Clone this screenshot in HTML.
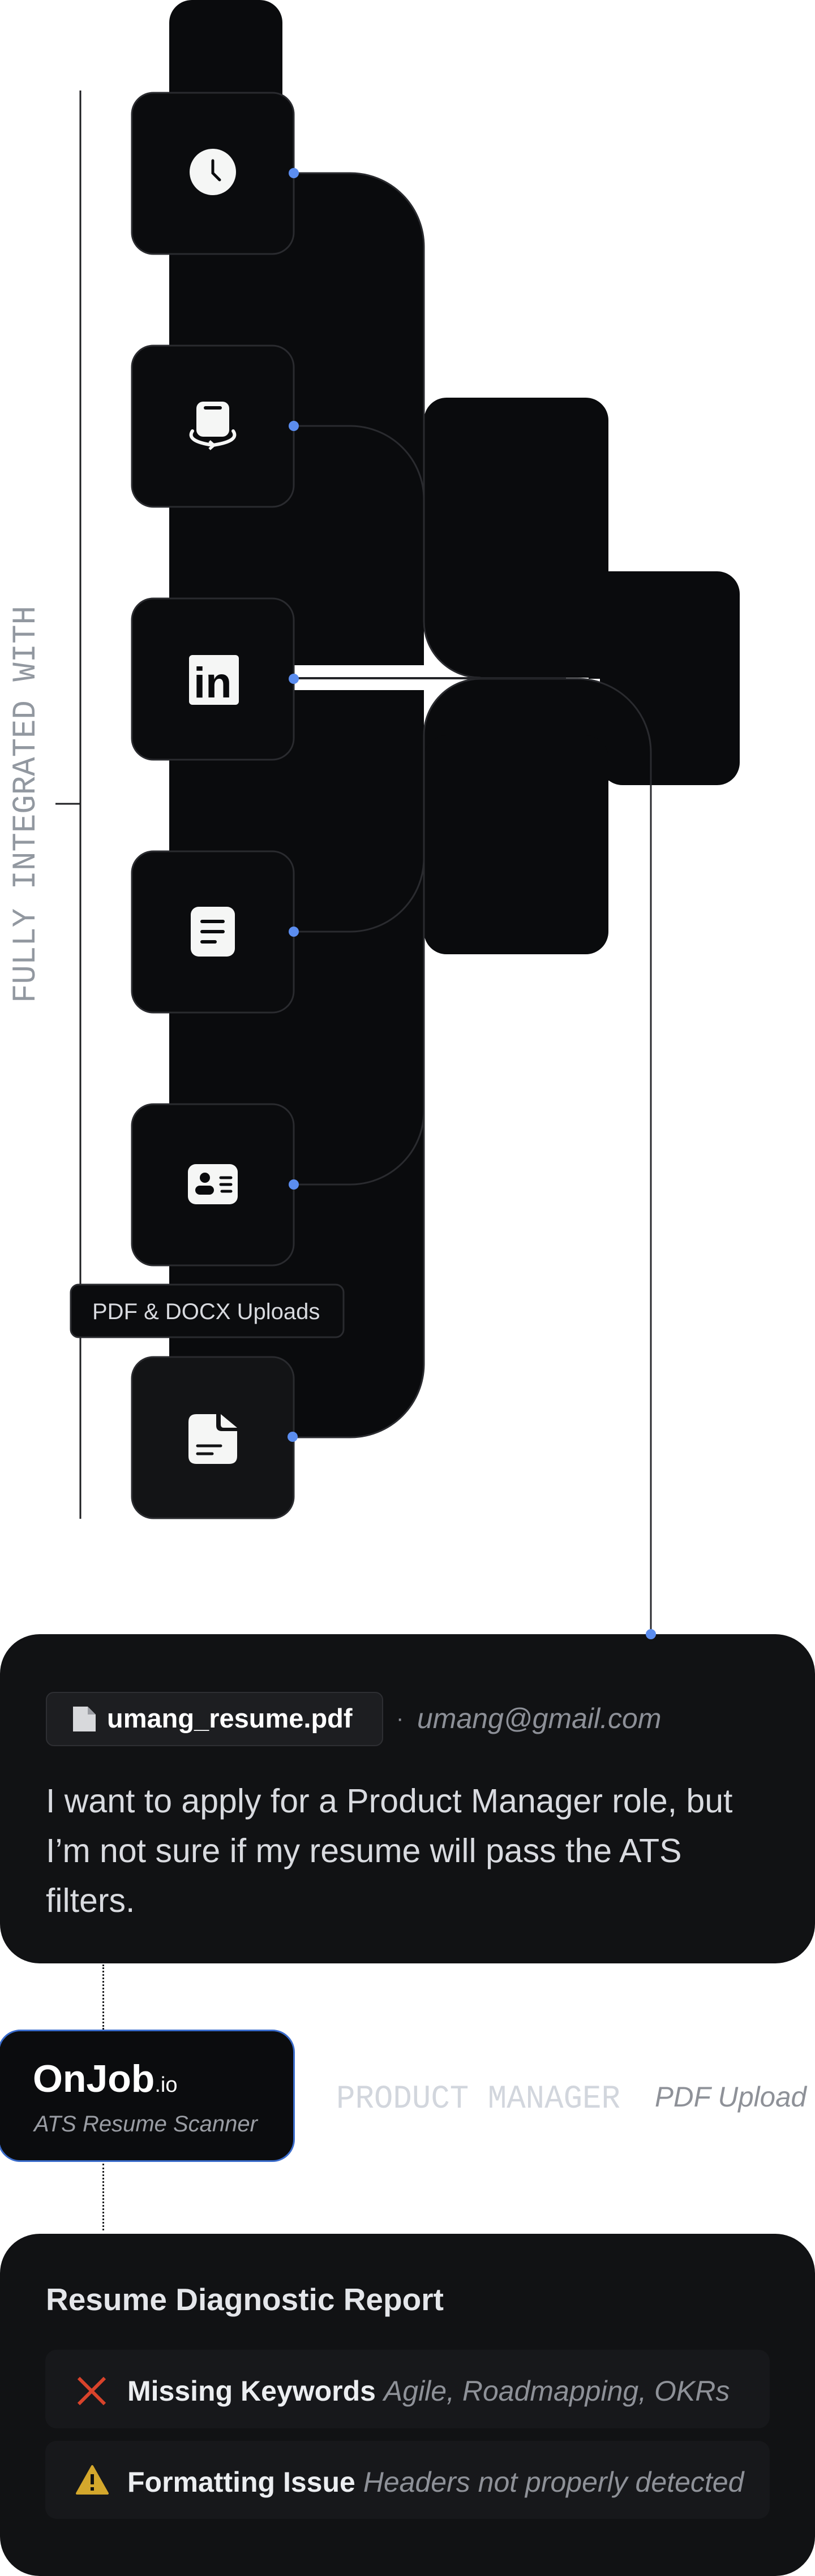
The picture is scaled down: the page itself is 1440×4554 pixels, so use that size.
<!DOCTYPE html>
<html><head><meta charset="utf-8"><style>
html,body{margin:0;padding:0;background:#fff;}
body{width:1440px;height:4554px;position:relative;overflow:hidden;font-family:"Liberation Sans",sans-serif;}
.a{position:absolute;}
</style></head><body>
<svg class="a" style="left:0;top:0" width="1440" height="2900" viewBox="0 0 1440 2900">
<g fill="#0a0b0d">
<rect x="299" y="0" width="200" height="2520" rx="40"/>
<path d="M499 306 H619 A130 130 0 0 1 749 436 V1176 H499 Z"/>
<path d="M499 1220 H749 V2411 A130 130 0 0 1 619 2541 H499 Z"/>
<rect x="749" y="703" width="326" height="403" rx="40"/>
<rect x="1060" y="1010" width="247" height="378" rx="40"/>
<path d="M749 900 V1098 A100 100 0 0 0 849 1198 H1075 V900 Z"/>
<rect x="1040" y="1010" width="60" height="190"/>
<path d="M749 1300 A100 100 0 0 1 849 1200 H1020 A130 130 0 0 1 1150 1330 V1380 H749 Z"/>
<rect x="749" y="1300" width="326" height="387" rx="40"/>
</g>
<g fill="none" stroke="#2a2b2f" stroke-width="3">
<path d="M519 306 H619 A130 130 0 0 1 749 436 V1098 A100 100 0 0 0 849 1198"/>
<path d="M519 753 H619 A130 130 0 0 1 749 883"/>
<path d="M849 1200 A100 100 0 0 0 749 1300 V2411 A130 130 0 0 1 619 2541 H519"/>
<path d="M519 1647 H619 A130 130 0 0 0 749 1517"/>
<path d="M519 2094 H619 A130 130 0 0 0 749 1964"/>
<path d="M849 1200 H1020 A130 130 0 0 1 1150 1330 V2889"/>
</g>
<line x1="519" y1="1199" x2="1000" y2="1199" stroke="#232428" stroke-width="4"/>
<line x1="142" y1="160" x2="142" y2="2685" stroke="#1d1e21" stroke-width="3"/>
<line x1="98" y1="1421" x2="142" y2="1421" stroke="#1d1e21" stroke-width="3"/>
<text x="0" y="0" transform="translate(61,1773) rotate(-90)" font-family="Liberation Mono, monospace" font-size="58" fill="#9298a0" textLength="702" lengthAdjust="spacingAndGlyphs">FULLY INTEGRATED WITH</text>
<g fill="#0b0c0e" stroke="#2a2b2f" stroke-width="3">
<rect x="233" y="164" width="286" height="285" rx="38"/>
<rect x="233" y="611" width="286" height="285" rx="38"/>
<rect x="233" y="1058" width="286" height="285" rx="38"/>
<rect x="233" y="1505" width="286" height="285" rx="38"/>
<rect x="233" y="1952" width="286" height="285" rx="38"/>
<rect x="233" y="2399" width="286" height="285" rx="38" fill="#131416"/>
</g>
<rect x="125" y="2271" width="482" height="93" rx="14" fill="#0b0c0e" stroke="#2a2b2f" stroke-width="3"/>
<text x="163" y="2332" font-family="Liberation Sans, sans-serif" font-size="40" fill="#d8dadf">PDF &amp; DOCX Uploads</text>
<circle cx="376" cy="304" r="41" fill="#f5f6f5"/>
<path d="M376 284 V306 L388 318" stroke="#0a0b0d" stroke-width="5" fill="none" stroke-linecap="round"/>
<rect x="347" y="710" width="58" height="62" rx="12" fill="#f5f6f5"/>
<rect x="360" y="718" width="32" height="6" rx="3" fill="#0a0b0d"/>
<path d="M340 762 Q328 780 376 787 Q424 780 412 762" stroke="#f5f6f5" stroke-width="6" fill="none" stroke-linecap="round"/>
<path d="M370 780 L378 787 L370 794" stroke="#f5f6f5" stroke-width="5" fill="none"/>
<rect x="334" y="1158" width="88" height="88" rx="6" fill="#f5f6f5"/>
<text x="342" y="1233" font-family="Liberation Sans, sans-serif" font-weight="bold" font-size="76" fill="#0a0b0d">in</text>
<rect x="337" y="1603" width="78" height="88" rx="14" fill="#f5f6f5"/>
<g stroke="#0a0b0d" stroke-width="6" stroke-linecap="round"><line x1="357" y1="1629" x2="394" y2="1629"/><line x1="357" y1="1647" x2="394" y2="1647"/><line x1="357" y1="1665" x2="380" y2="1665"/></g>
<rect x="332" y="2058" width="88" height="71" rx="14" fill="#f5f6f5"/>
<circle cx="362" cy="2082" r="9" fill="#0a0b0d"/><rect x="345" y="2096" width="33" height="16" rx="8" fill="#0a0b0d"/>
<g stroke="#0a0b0d" stroke-width="5" stroke-linecap="round"><line x1="390" y1="2082" x2="408" y2="2082"/><line x1="390" y1="2094" x2="408" y2="2094"/><line x1="392" y1="2106" x2="408" y2="2106"/></g>
<path d="M347 2500 H382 V2520 Q382 2530 392 2530 H419 V2574 Q419 2588 405 2588 H347 Q333 2588 333 2574 V2514 Q333 2500 347 2500 Z" fill="#f5f6f5"/>
<path d="M390 2500 L419 2524 H395 Q390 2524 390 2518 Z" fill="#f5f6f5"/>
<g stroke="#131416" stroke-width="5" stroke-linecap="round"><line x1="349" y1="2556" x2="390" y2="2556"/><line x1="349" y1="2570" x2="375" y2="2570"/></g>
<g fill="#5b8def">
<circle cx="519" cy="306" r="9"/><circle cx="519" cy="753" r="9"/><circle cx="519" cy="1200" r="9"/>
<circle cx="519" cy="1647" r="9"/><circle cx="519" cy="2094" r="9"/><circle cx="517" cy="2540" r="9"/>
</g>
</svg>

<div class="a" style="left:0;top:2889px;width:1440px;height:582px;background:#111214;border-radius:70px;"></div>
<svg class="a" style="left:1140px;top:2879px" width="20" height="20"><circle cx="10" cy="10" r="9" fill="#5b8def"/></svg>
<div class="a" style="left:81px;top:2991px;width:596px;height:96px;background:#1d1e21;border:2px solid #2e2f33;border-radius:14px;box-sizing:border-box;"></div>
<svg class="a" style="left:127px;top:3015px" width="44" height="48"><path d="M2 2 H28 L42 16 V46 H2 Z" fill="#d8d9dc"/><path d="M28 2 V16 H42" fill="#9a9ca2"/></svg>
<div class="a" style="left:189px;top:3010px;font-size:47px;font-weight:bold;color:#fff;line-height:56px;">umang_resume.pdf</div>
<div class="a" style="left:700px;top:3010px;font-size:40px;color:#8d9098;line-height:56px;">·</div>
<div class="a" style="left:737px;top:3010px;font-size:50px;font-style:italic;color:#8d9098;line-height:56px;">umang@gmail.com</div>
<div class="a" style="left:81px;top:3140px;width:1340px;font-size:59px;color:#d9dbe0;line-height:88px;white-space:nowrap;">I want to apply for a Product Manager role, but<br>I’m not sure if my resume will pass the ATS<br>filters.</div>

<div class="a" style="left:181px;top:3473px;height:115px;border-left:3px dotted #1d1e21;"></div>
<div class="a" style="left:181px;top:3825px;height:118px;border-left:3px dotted #1d1e21;"></div>

<div class="a" style="left:-4px;top:3588px;width:525px;height:234px;background:#0b0c0e;border:3px solid #3a6ccc;border-radius:40px;box-sizing:border-box;"></div>
<div class="a" style="left:58px;top:3640px;font-size:68px;font-weight:bold;color:#fff;line-height:70px;">OnJob<span style="font-size:38px;font-weight:normal;">.io</span></div>
<div class="a" style="left:60px;top:3730px;font-size:40px;font-style:italic;color:#9a9da4;line-height:50px;">ATS Resume Scanner</div>
<svg class="a" style="left:590px;top:3670px" width="850" height="80">
<text x="4" y="56" font-family="Liberation Mono, monospace" font-size="58" fill="#d2d6dd" textLength="502" lengthAdjust="spacingAndGlyphs">PRODUCT  MANAGER</text>
<text x="567" y="54" font-family="Liberation Sans, sans-serif" font-style="italic" font-size="50" fill="#8e9198" textLength="268" lengthAdjust="spacingAndGlyphs">PDF Upload</text>
</svg>

<div class="a" style="left:0;top:3949px;width:1440px;height:605px;background:#111214;border-radius:70px;"></div>
<div class="a" style="left:81px;top:4033px;font-size:55px;font-weight:bold;color:#e4e6ea;line-height:64px;">Resume Diagnostic Report</div>
<div class="a" style="left:80px;top:4154px;width:1280px;height:139px;background:#17181b;border-radius:20px;"></div>
<div class="a" style="left:80px;top:4315px;width:1280px;height:138px;background:#17181b;border-radius:20px;"></div>
<svg class="a" style="left:135px;top:4200px" width="54" height="54"><path d="M4 4 L50 50 M50 4 L4 50" stroke="#d9432b" stroke-width="6"/></svg>
<div class="a" style="left:225px;top:4197px;font-size:50px;white-space:nowrap;line-height:60px;"><b style="color:#eceef1">Missing Keywords</b> <i style="color:#8e9198">Agile, Roadmapping, OKRs</i></div>
<svg class="a" style="left:134px;top:4358px" width="58" height="52"><path d="M29 2 L56 50 H2 Z" fill="#d4a72c" stroke="#d4a72c" stroke-width="4" stroke-linejoin="round"/><rect x="26" y="16" width="6" height="18" fill="#111"/><rect x="26" y="39" width="6" height="6" fill="#111"/></svg>
<div class="a" style="left:225px;top:4358px;font-size:50px;white-space:nowrap;line-height:60px;"><b style="color:#eceef1">Formatting Issue</b> <i style="color:#8e9198">Headers not properly detected</i></div>
</body></html>
